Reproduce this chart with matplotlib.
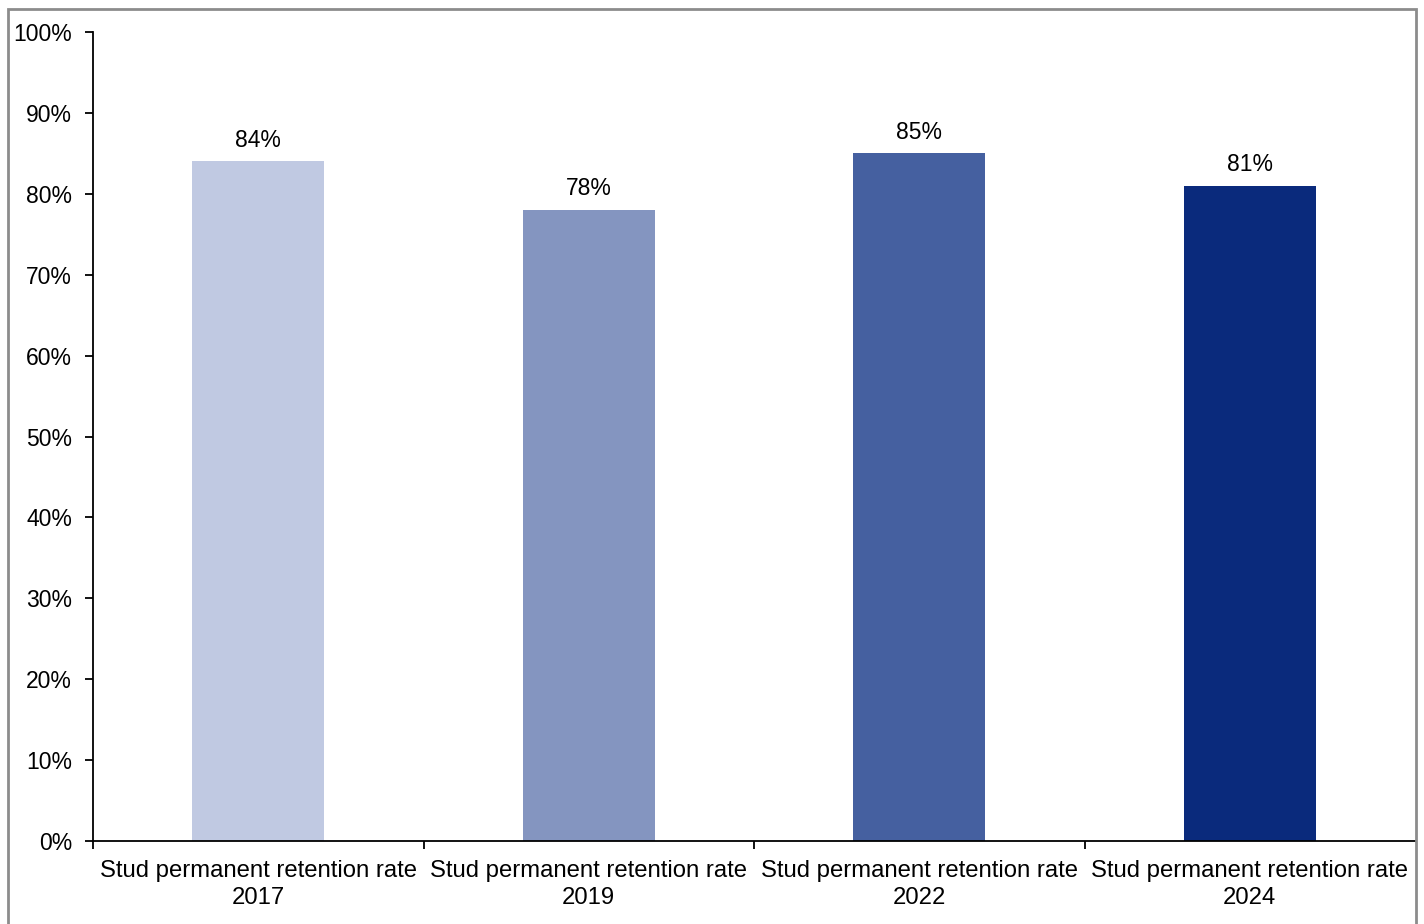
import matplotlib.pyplot as plt
from matplotlib.patches import Rectangle
from matplotlib.ticker import FuncFormatter, FixedLocator

plt.rcParams['font.family'] = ['Liberation Sans', 'DejaVu Sans']

# Data
categories = ['Stud permanent retention rate\n2017', 'Stud permanent retention rate\n2019',
              'Stud permanent retention rate\n2022', 'Stud permanent retention rate\n2024']
values = [84, 78, 85, 81]
bar_colors = ['#C0C9E2', '#8495C0', '#4560A0', '#0A2A7C']

fs = 16.5

fig = plt.figure(figsize=(14.24, 9.24), dpi=100)
ax = fig.add_axes([93 / 1424, 1 - 841 / 924, (1415 - 93) / 1424, (841 - 32) / 924])

x = list(range(len(categories)))
bars = ax.bar(x, values, width=0.4, color=bar_colors)

for xi, v in zip(x, values):
    ax.annotate(f'{v}%', (xi, v), xytext=(0, 7), textcoords='offset points',
                ha='center', va='bottom', fontsize=fs)

ax.set_xlim(-0.5, len(categories) - 0.5)
ax.set_ylim(0, 100)
ax.set_yticks(range(0, 101, 10))
ax.yaxis.set_major_formatter(FuncFormatter(lambda v, p: f'{v:.0f}%'))

# category labels centered, tick marks on boundaries
ax.xaxis.set_major_locator(FixedLocator([i + 0.5 for i in x[:-1]] + [-0.5]))
ax.xaxis.set_major_formatter(FuncFormatter(lambda v, p: ''))
ax.xaxis.set_minor_locator(FixedLocator(x))
ax.set_xticklabels(categories, minor=True, linespacing=1.25)
ax.tick_params(axis='x', which='minor', length=0, pad=14, labelsize=17.2)
ax.tick_params(axis='x', which='major', length=6, width=1.3, direction='out')
ax.tick_params(axis='y', length=6, width=1.3, labelsize=fs, pad=9)

for s in ['top', 'right']:
    ax.spines[s].set_visible(False)
for s in ['left', 'bottom']:
    ax.spines[s].set_linewidth(1.3)

# grey border around chart
fig.patches.append(Rectangle((8 / 1424, -0.05), (1416 - 8) / 1424, 1 - 9 / 924 + 0.05,
                             transform=fig.transFigure, fill=False,
                             edgecolor='#8C8C8C', linewidth=2))

fig.savefig('out.png', dpi=100, facecolor='white')
